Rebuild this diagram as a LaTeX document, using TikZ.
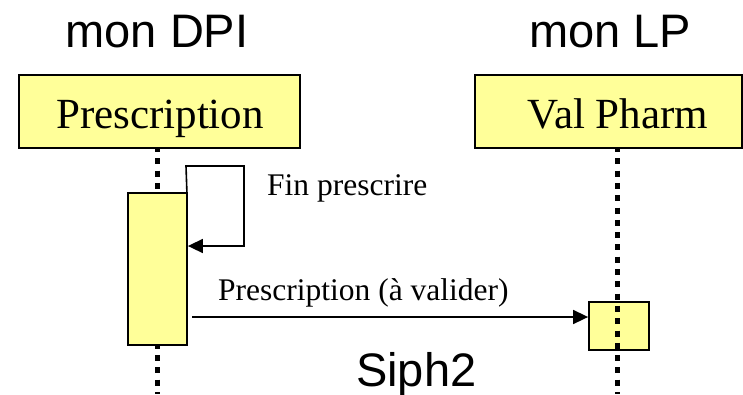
\documentclass[tikz,border=0pt]{standalone}
\usepackage{fontspec}
\setmainfont{Liberation Serif}
\setsansfont{Liberation Sans}
\usetikzlibrary{arrows.meta}
\definecolor{actfill}{HTML}{FFFF99}
\tikzset{
  headbox/.style={draw=black, line width=1.8pt, fill=actfill, inner sep=0pt},
  actbox/.style={draw=black, line width=1.8pt, fill=actfill, inner sep=0pt},
  lifeline/.style={line width=5pt, dash pattern=on 6pt off 6.3pt, dash phase=2pt},
  msg/.style={line width=1.6pt, -{Triangle[length=15pt,width=14pt]}},
  systitle/.style={font=\sffamily\fontsize{47}{52}\selectfont, anchor=base, inner sep=0pt},
  headtext/.style={font=\fontsize{43}{48}\selectfont, anchor=base, inner sep=0pt},
  msgtext/.style={font=\fontsize{31.5}{36}\selectfont, anchor=base west, inner sep=0pt}
}
\begin{document}
\begin{tikzpicture}[x=1pt, y=-1pt]
  \useasboundingbox (0,0) rectangle (743,394);

  % system titles
  \node[systitle] (tdpi) at (157,47) {mon DPI};
  \node[systitle] (tlp) at (610,47) {mon LP};

  % object headers
  \node[headbox, minimum width=281pt, minimum height=73pt] (dpi) at (159.5,111.5) {};
  \node[headtext] (dpitext) at (160,128) {Prescription};
  \node[headbox, minimum width=267pt, minimum height=73pt] (lp) at (608.5,111.5) {};
  \node[headtext] (lptext) at (618,128) {Val Pharm};

  % lifeline ends
  \coordinate (dpiend) at (157,394);
  \coordinate (lpend) at (617,394);
  \coordinate (dpitop) at (157,148);
  \coordinate (lptop) at (617,148);

  % left lifeline, hidden behind its activation
  \draw[lifeline] (dpitop) -- (dpiend);
  \node[actbox, minimum width=59pt, minimum height=152pt] (act1) at (157.5,269) {};

  % right activation, lifeline drawn over it
  \node[actbox, minimum width=60pt, minimum height=48pt] (act2) at (619,326) {};
  \draw[lifeline] (lptop) -- (lpend);

  % self message
  \coordinate (l1) at (186,166);
  \coordinate (l2) at (244,166);
  \coordinate (l3) at (244,246);
  \draw[msg] (act1.north east) ++(-1,0) -- (l1) -- (l2) -- (l3) -- (act1.east |- l3);
  \node[msgtext] (m1) at (267,195) {Fin prescrire};

  % message to the pharmacist validation
  \coordinate (m2start) at (192,317);
  \draw[msg] (m2start) -- (act2.west |- m2start);
  \node[msgtext] (m2) at (218,300) {Prescription (à valider)};

  % scenario name
  \node[systitle, anchor=base west] (sc) at (356,386) {Siph2};
\end{tikzpicture}
\end{document}
